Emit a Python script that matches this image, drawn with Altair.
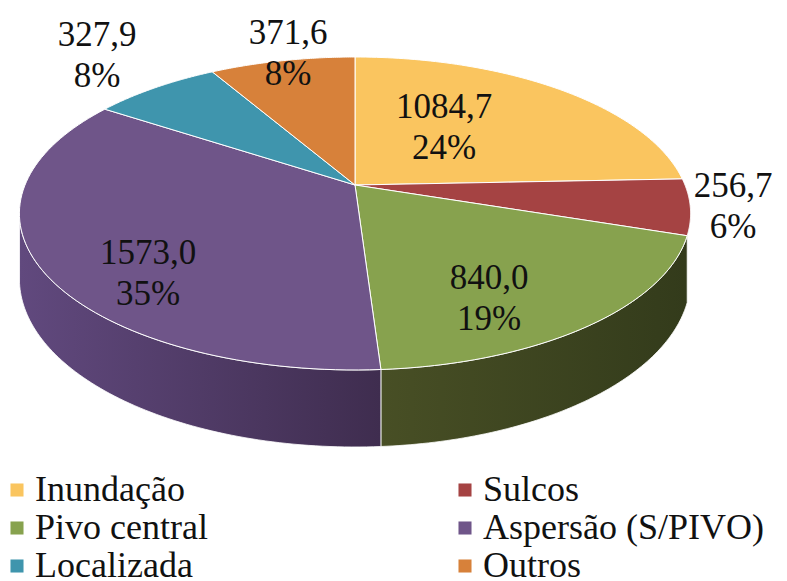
import numpy as np
import altair as alt

categories = ["Inundação", "Sulcos", "Pivo central", "Aspersão (S/PIVO)", "Localizada", "Outros"]
values = [1084.7, 256.7, 840.0, 1573.0, 327.9, 371.6]
value_labels = ["1084,7", "256,7", "840,0", "1573,0", "327,9", "371,6"]
pct_labels = ["24%", "6%", "19%", "35%", "8%", "8%"]
colors = ["#FAC55F", "#A54343", "#87A24E", "#6F5589", "#3F95AD", "#D7813A"]

# Layout of the perspective pie (page pixels relative to the chart origin)
CX, CY = 347.0, 177.0
A, B, K, DEPTH = 330.0, 151.3, 0.182, 63.0
# Hand placement of the two-line labels, as in the source chart
label_x = [436, 725, 481, 140, 89, 280]
label_y = [99, 178, 270, 245, 27, 25]

FONT = "Liberation Serif"
total = sum(values)
edges = np.cumsum([0.0] + values) / total * 2 * np.pi


def project_pt(theta, drop=0.0, r=1.0):
    u, v = r * np.sin(theta), r * np.cos(theta)
    den = 1 + K * v
    return [float(CX + A * u / den), float(CY - B * v / den + drop / den)]


def feature(name, ring):
    ring = ring + [ring[0]]
    return {"type": "Feature", "properties": {"name": name},
            "geometry": {"type": "Polygon", "coordinates": [ring]}}


def collection(feats):
    return alt.InlineData(values={"type": "FeatureCollection", "features": feats},
                          format=alt.DataFormat(property="features", type="json"))


def wall(t0, t1):
    th = np.linspace(t0, t1, 80)
    top = [project_pt(t) for t in th]
    bot = [project_pt(t, DEPTH) for t in th[::-1]]
    return top + bot


def grad(left, right):
    return alt.Gradient(gradient="linear", x1=0, x2=1, y1=0, y2=0,
                        stops=[alt.GradientStop(offset=0, color=left),
                               alt.GradientStop(offset=1, color=right)])


wedges = []
for i, name in enumerate(categories):
    th = np.linspace(edges[i], edges[i + 1], 80)
    wedges.append(feature(name, [project_pt(0, r=0.0)] + [project_pt(t) for t in th]))

green_wall = alt.Chart(collection([feature("g", wall(edges[2], edges[3]))])).mark_geoshape(
    fill=grad("#484F25", "#333B1B"), stroke="#FFFFFF", strokeWidth=0.8)
purple_wall = alt.Chart(collection([feature("p", wall(edges[3], np.deg2rad(258)))])).mark_geoshape(
    fill=grad("#61497E", "#3F2D4F"), stroke="#FFFFFF", strokeWidth=0.8)

top = alt.Chart(collection(wedges)).mark_geoshape(stroke="#FFFFFF", strokeWidth=1).encode(
    color=alt.Color(
        "properties.name:N",
        scale=alt.Scale(domain=categories, range=colors),
        sort=None,
        legend=alt.Legend(
            title=None, orient="none", legendX=-9, legendY=464, columns=2,
            direction="horizontal",
            symbolType="square", symbolSize=170, symbolStrokeWidth=0,
            labelFont=FONT, labelFontSize=36, labelColor="#111111",
            labelLimit=400, labelOffset=0, columnPadding=239, rowPadding=2,
        ),
    )
)

rows = [{"lon": float(x), "lat": float(y), "t": a + "\n" + b}
        for x, y, a, b in zip(label_x, label_y, value_labels, pct_labels)]
text = alt.Chart(alt.Data(values=rows)).mark_text(
    font=FONT, fontSize=35, lineBreak="\n", lineHeight=41, color="#111111",
    align="center", baseline="middle",
).encode(longitude="lon:Q", latitude="lat:Q", text="t:N")

chart = alt.layer(green_wall, purple_wall, top, text).project(
    type="identity", scale=1, translate=[0, 0]
).properties(
    width=771, height=573, padding=0, autosize=alt.AutoSizeParams(type="none")
).configure_view(stroke=None)

chart.save("out.html", embed_options={"renderer": "svg", "actions": False})
